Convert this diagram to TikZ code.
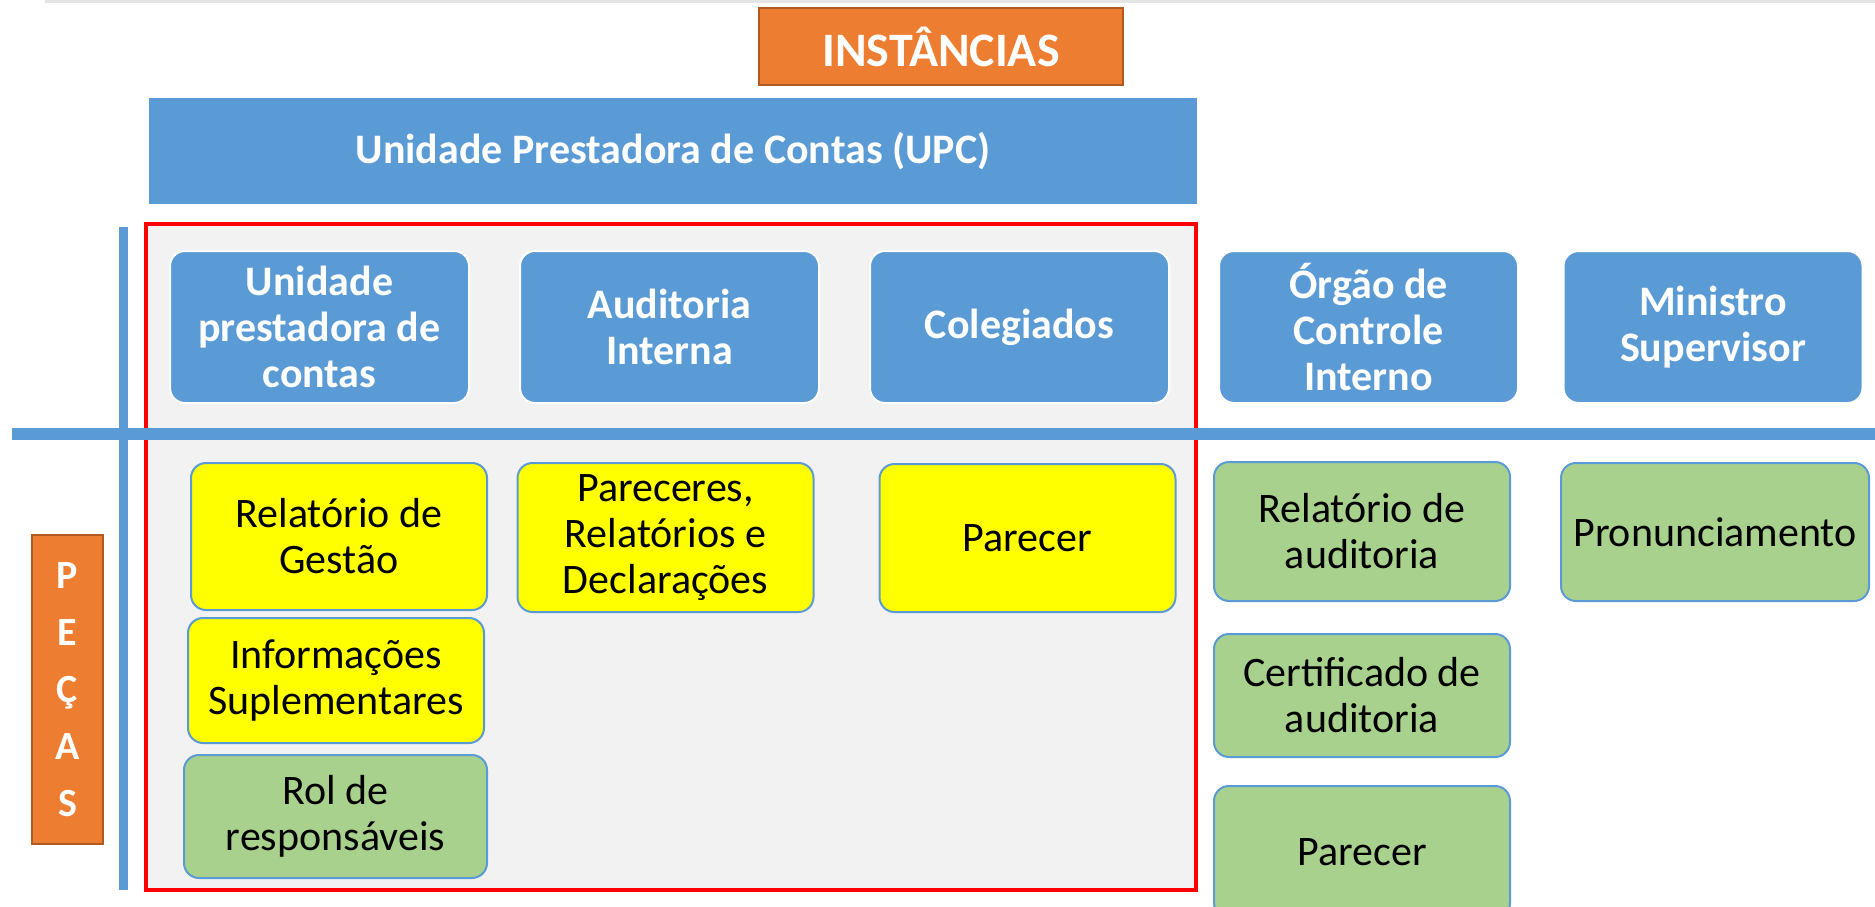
\documentclass[tikz,border=0pt]{standalone}
\usepackage{fontspec}
\setmainfont{Carlito}
\definecolor{azul}{HTML}{5B9BD5}
\definecolor{laranja}{HTML}{ED7D31}
\definecolor{laranjaescuro}{HTML}{AE5A21}
\definecolor{verde}{HTML}{A9D18E}
\definecolor{amarelo}{HTML}{FFFF00}
\definecolor{fundo}{HTML}{F2F2F2}
\begin{document}
\begin{tikzpicture}[x=1pt,y=-1pt,
    rotulo/.style={rectangle, fill=laranja, draw=laranjaescuro, line width=2pt, text=white, font=\bfseries\fontsize{48}{56}\selectfont, align=center, inner sep=0pt},
    instancia/.style={rectangle, rounded corners=15pt, fill=azul, draw=white, line width=2pt, minimum width=299pt, minimum height=152pt, text=white, font=\bfseries\fontsize{42}{46}\selectfont, align=center},
    peca/.style={rectangle, rounded corners=15pt, draw=azul, line width=2pt, minimum width=296pt, text=black, font=\fontsize{42}{46}\selectfont, align=center},
    pecaamarela/.style={peca, fill=amarelo},
    pecaverde/.style={peca, fill=verde}]
    \useasboundingbox (0,0) rectangle (1875,907);
    \draw[black!10, line width=4pt] (45,1) -- (1875,1);
    \node[rotulo, minimum width=364pt, minimum height=77pt] (inst) at (941,46.5) {INSTÂNCIAS};
    \node[rectangle, fill=azul, minimum width=1048pt, minimum height=106pt, text=white, font=\bfseries\fontsize{42}{46}\selectfont] (upc) at (673,151) {Unidade Prestadora de Contas (UPC)};
    \draw[red, fill=fundo, line width=4pt] (146,224) rectangle (1196,890);
    \draw[azul, line width=9pt] (123,227) -- (123,890);
    \draw[azul, line width=12pt] (12,434) -- (1875,434);

    \node[instancia] (upcinst) at (319.5,327) {Unidade\\prestadora de\\contas};
    \node[instancia] (audint) at (669.5,327) {Auditoria\\Interna};
    \node[instancia] (coleg) at (1019.5,327) {Colegiados};
    \node[instancia] (oci) at (1368.5,327) {Órgão de\\Controle\\Interno};
    \node[instancia] (min) at (1713,327) {Ministro\\Supervisor};

    \node[pecaamarela, minimum height=147pt] (relgestao) at (339,536.5) {Relatório de\\Gestão};
    \node[pecaamarela, minimum height=125pt] (infsup) at (336,680.5) {Informações\\Suplementares};
    \node[pecaverde, minimum width=303pt, minimum height=123pt] (rol) at (335.5,816.5) {Rol de\\responsáveis};
    \node[pecaamarela, minimum height=149pt] (pareceres) at (665.5,537.5) {Pareceres,\\Relatórios e\\Declarações};
    \node[pecaamarela, minimum height=148pt] (parcoleg) at (1027.5,538) {Parecer};
    \node[pecaverde, minimum height=139pt] (relaud) at (1362,531.5) {Relatório de\\auditoria};
    \node[pecaverde, minimum height=123pt] (certaud) at (1362,695.5) {Certificado de\\auditoria};
    \node[pecaverde, minimum height=132pt] (paroci) at (1362,852) {Parecer};
    \node[pecaverde, minimum width=308pt, minimum height=138pt] (pron) at (1715,532) {Pronunciamento};

    \node[rotulo, minimum width=71pt, minimum height=309pt, font=\bfseries\fontsize{40}{57}\selectfont] (pecas) at (67.5,689.5) {P\\E\\Ç\\A\\S};
\end{tikzpicture}
\end{document}
